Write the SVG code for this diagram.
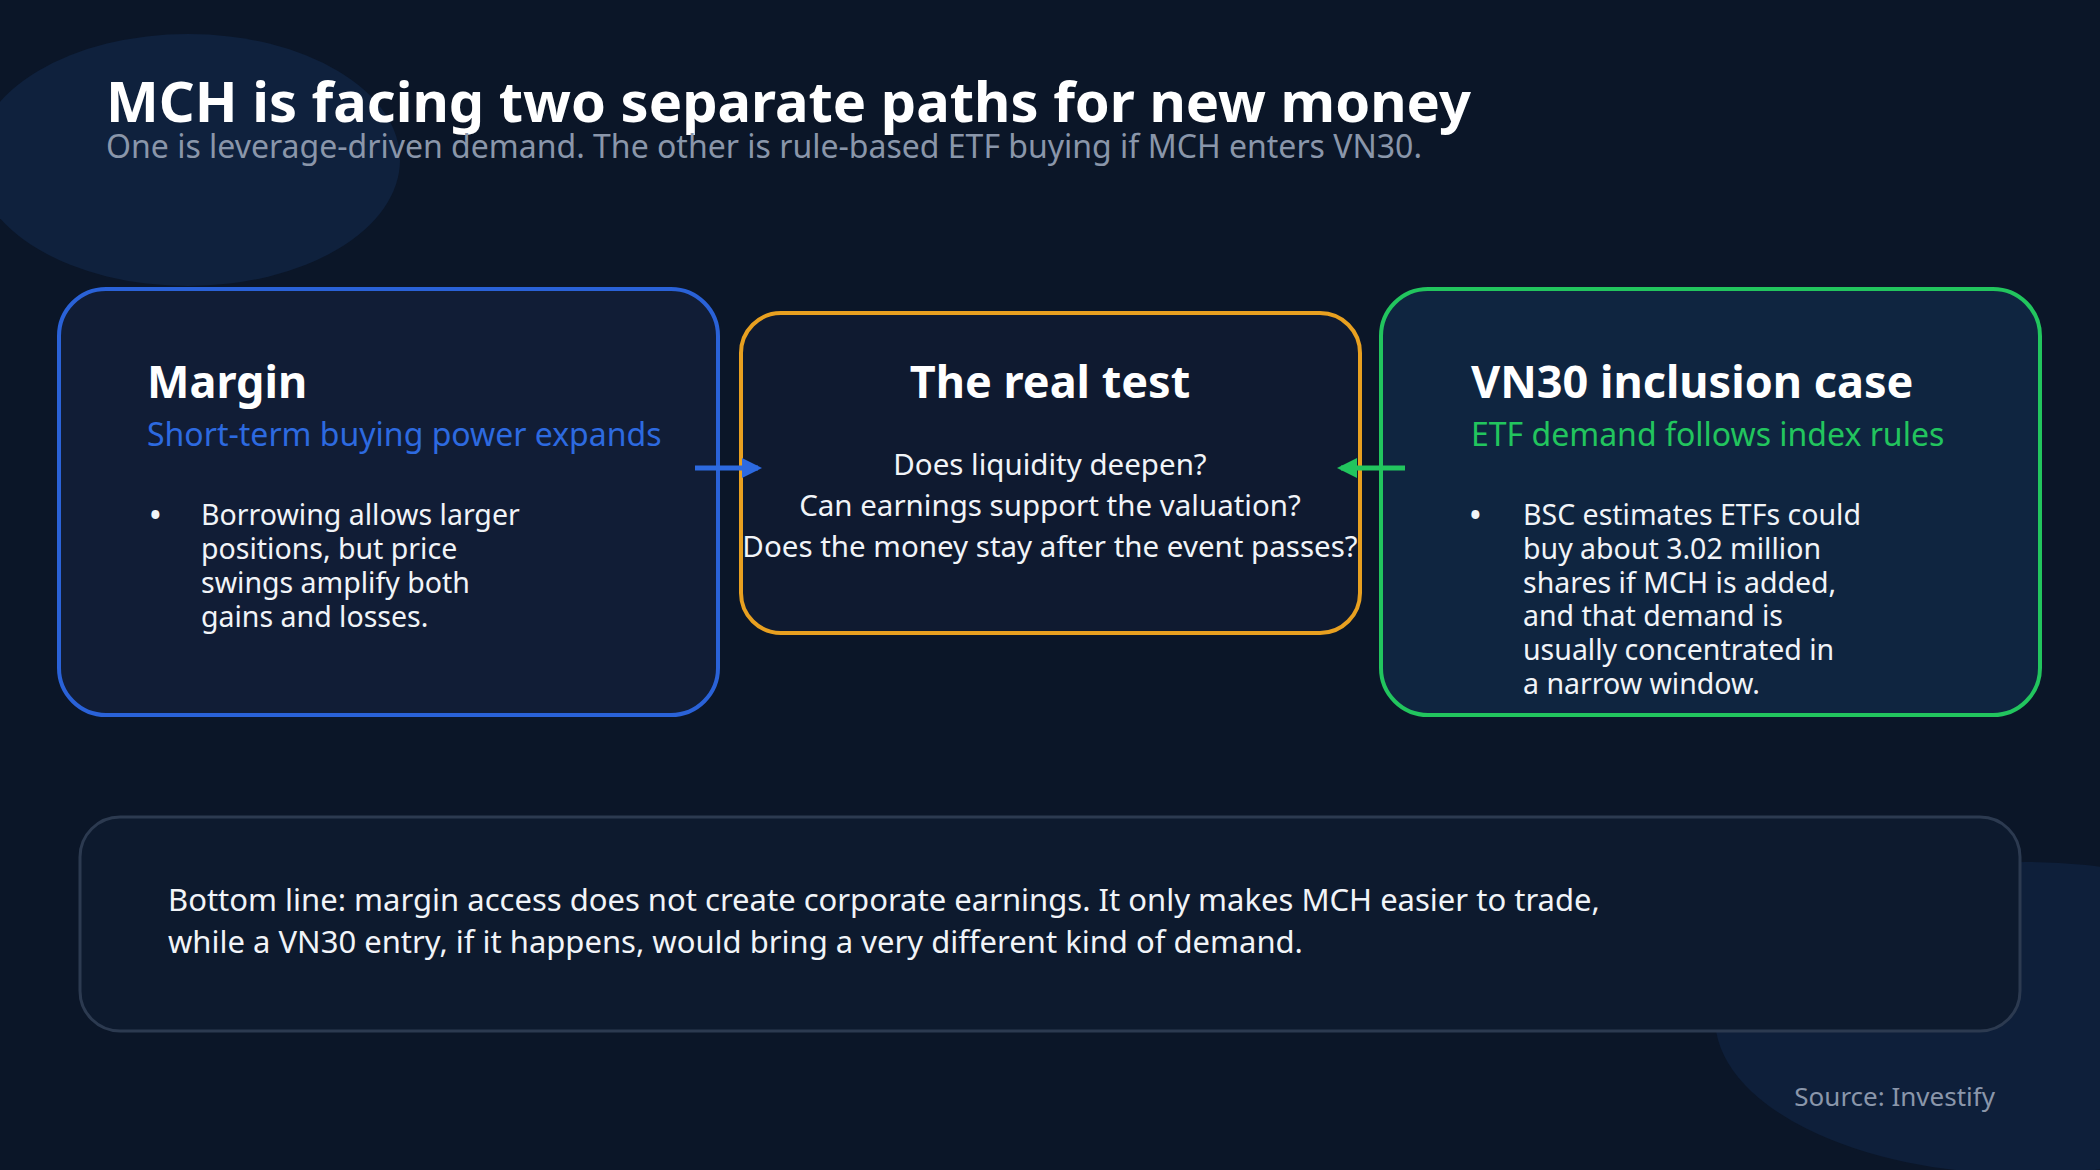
<svg xmlns="http://www.w3.org/2000/svg" width="2100" height="1170" viewBox="0 0 2100 1170">
<style>
text{font-family:"Noto Sans","Open Sans",sans-serif}
.h{font-weight:700;fill:#fff;font-size:45px}
.b{fill:#f1f4f8;font-size:28.5px}
.m{fill:#f1f4f8;font-size:29.5px;text-anchor:middle}
</style>
<defs>
<marker id="ab" viewBox="0 0 10 10" refX="8" refY="5" markerWidth="4" markerHeight="4" orient="auto"><path d="M0,0L10,5L0,10z" fill="#2d6ae0"/></marker>
<marker id="ag" viewBox="0 0 10 10" refX="8" refY="5" markerWidth="4" markerHeight="4" orient="auto"><path d="M0,0L10,5L0,10z" fill="#22c55e"/></marker>
</defs>
<rect width="2100" height="1170" fill="#0b1628"/>
<ellipse cx="188" cy="160" rx="212" ry="126" fill="#0f213d"/>
<ellipse cx="2025" cy="1018" rx="310" ry="156" fill="#0e1f3a"/>
<text x="106" y="122" font-size="56" font-weight="700" fill="#fff">MCH is facing two separate paths for new money</text>
<text x="106" y="158" font-size="32" fill="#8a96aa">One is leverage-driven demand. The other is rule-based ETF buying if MCH enters VN30.</text>
<g id="margin">
<rect x="59" y="289" width="659" height="426" rx="47" fill="#111d36" stroke="#2a62d8" stroke-width="4"/>
<text x="147" y="398" class="h">Margin</text>
<text x="147" y="446" font-size="32" fill="#2d6ae0">Short-term buying power expands</text>
<text x="150" y="525" class="b" font-weight="700">•</text>
<text class="b"><tspan x="201" y="525">Borrowing allows larger</tspan><tspan x="201" y="559">positions, but price</tspan><tspan x="201" y="593">swings amplify both</tspan><tspan x="201" y="627">gains and losses.</tspan></text>
</g>
<g id="test">
<rect x="741" y="313" width="619" height="320" rx="40" fill="#0f1a30" stroke="#e8a020" stroke-width="4"/>
<text x="1050" y="398" class="h" text-anchor="middle">The real test</text>
<text x="1050" y="475" class="m">Does liquidity deepen?</text>
<text x="1050" y="516" class="m">Can earnings support the valuation?</text>
<text x="1050" y="557" class="m">Does the money stay after the event passes?</text>
</g>
<g id="vn30">
<rect x="1381" y="289" width="659" height="426" rx="47" fill="#0f2540" stroke="#22c55e" stroke-width="4"/>
<text x="1471" y="398" class="h">VN30 inclusion case</text>
<text x="1471" y="446" font-size="32" fill="#22c55e">ETF demand follows index rules</text>
<text x="1470" y="525" class="b" font-weight="700">•</text>
<text class="b"><tspan x="1523" y="525">BSC estimates ETFs could</tspan><tspan x="1523" y="559">buy about 3.02 million</tspan><tspan x="1523" y="593">shares if MCH is added,</tspan><tspan x="1523" y="626">and that demand is</tspan><tspan x="1523" y="660">usually concentrated in</tspan><tspan x="1523" y="694">a narrow window.</tspan></text>
</g>
<g id="connectors">
<line x1="695" y1="468" x2="758" y2="468" stroke="#2d6ae0" stroke-width="5" marker-end="url(#ab)"/>
<line x1="1405" y1="468" x2="1341" y2="468" stroke="#22c55e" stroke-width="5" marker-end="url(#ag)"/>
</g>
<g id="bottom">
<rect x="80" y="817" width="1940" height="214" rx="40" fill="#0d1a2e" stroke="#2c3a50" stroke-width="3"/>
<text x="168" y="911" font-size="31" fill="#f1f4f8">Bottom line: margin access does not create corporate earnings. It only makes MCH easier to trade,</text>
<text x="168" y="953" font-size="31" fill="#f1f4f8">while a VN30 entry, if it happens, would bring a very different kind of demand.</text>
</g>
<text x="1995" y="1106" font-size="26" fill="#8a96aa" text-anchor="end">Source: Investify</text>
</svg>
